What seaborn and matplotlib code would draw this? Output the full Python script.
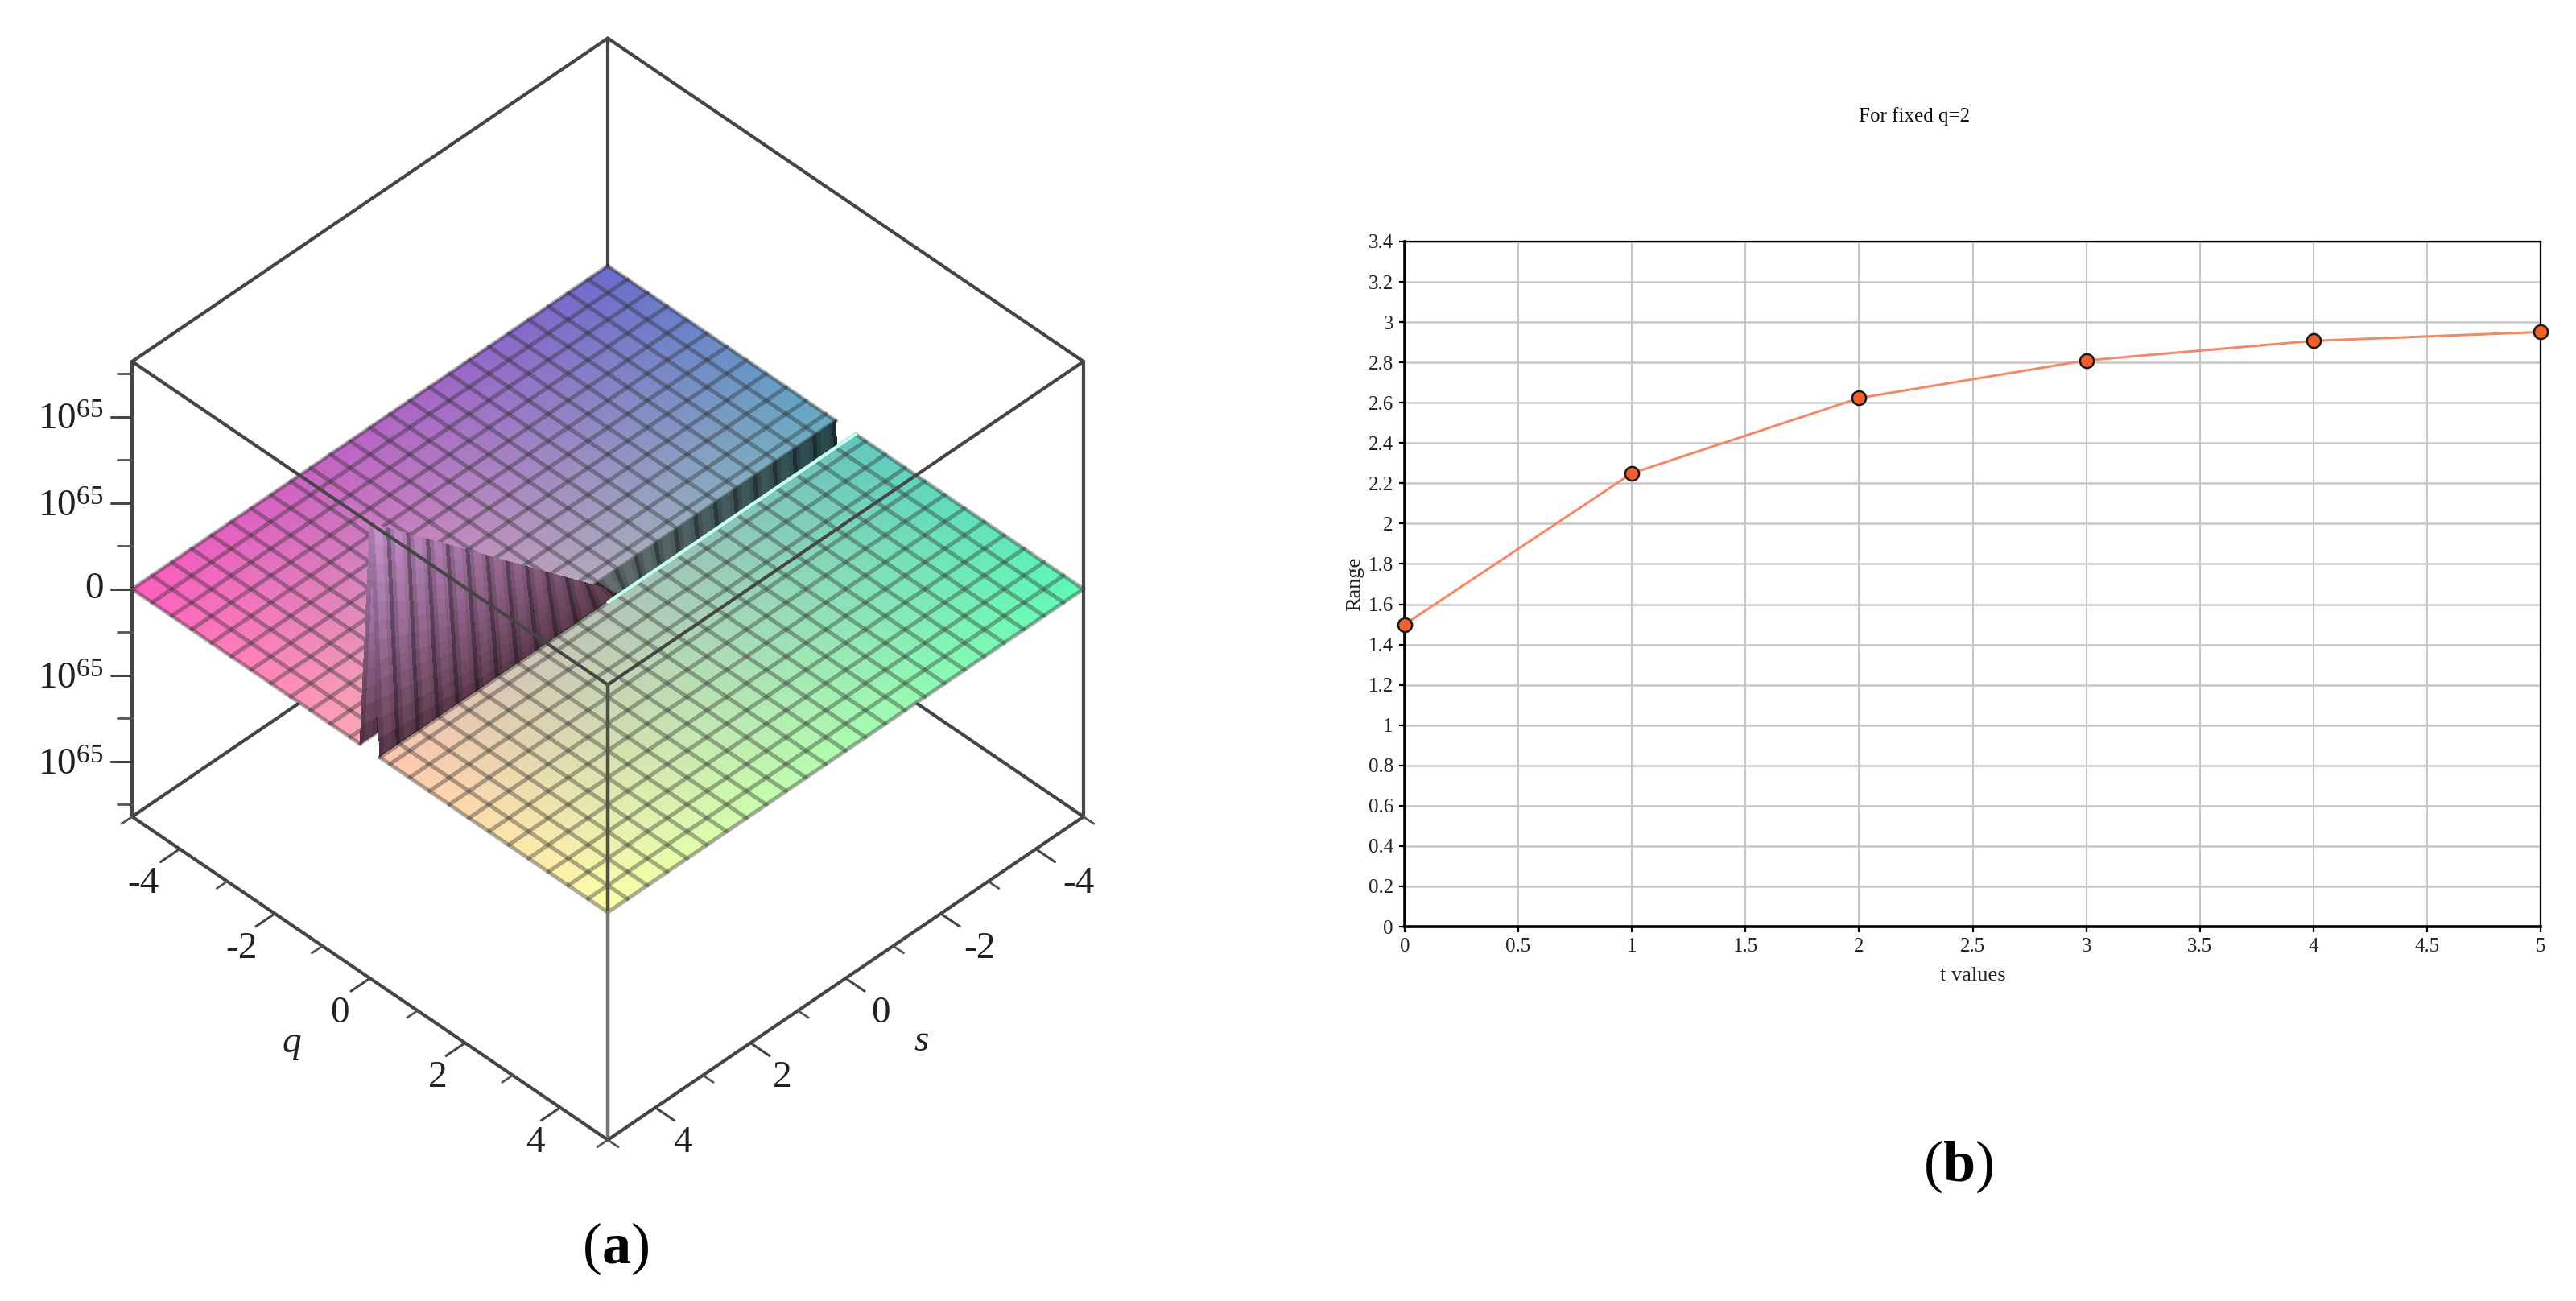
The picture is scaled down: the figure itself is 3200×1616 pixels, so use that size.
import numpy as np
import matplotlib
matplotlib.use("Agg")
import matplotlib.pyplot as plt
from matplotlib.colors import to_rgb
from mpl_toolkits.mplot3d import proj3d
import seaborn as sns

# panel (b)
t_values = [0, 1, 2, 3, 4, 5]
range_values = [1.5, 2.25, 2.623, 2.81, 2.907, 2.951]
x_ticks = [0, 0.5, 1, 1.5, 2, 2.5, 3, 3.5, 4, 4.5, 5]
x_labels = ["0", "0.5", "1", "1.5", "2", "2.5", "3", "3.5", "4", "4.5", "5"]
y_ticks = [0, 0.2, 0.4, 0.6, 0.8, 1, 1.2, 1.4, 1.6, 1.8, 2, 2.2, 2.4, 2.6, 2.8, 3, 3.2, 3.4]
y_labels = ["0", "0.2", "0.4", "0.6", "0.8", "1", "1.2", "1.4", "1.6", "1.8", "2", "2.2", "2.4", "2.6", "2.8", "3", "3.2", "3.4"]

# panel (a), z in units of 10^65
ZMAX = 2.64
s_grid = [-5.0, -4.583, -4.167, -3.75, -3.333, -2.917, -2.5, -2.083, -1.667, -1.25, -0.833, -0.417,
          0.0, 0.417, 0.833, 1.25, 1.667, 2.083, 2.5, 2.917, 3.333, 3.75, 4.167, 4.583, 5.0]
q_lines_back = [-5.0, -4.583, -4.167, -3.75, -3.333, -2.917, -2.5, -2.083, -1.667, -1.25, -0.833, -0.417, -0.208]
q_lines_front = [0.208, 0.417, 0.833, 1.25, 1.667, 2.083, 2.5, 2.917, 3.333, 3.75, 4.167, 4.583, 5.0]
ridge_z = [-2.64, -2.42, -2.2, -1.98, -1.76, -1.54, -1.32, -1.1, -0.88, -0.66, -0.44, -0.22,
           0.0, 0.22, 0.44, 0.66, 0.88, 1.1, 1.32, 1.54, 1.76, 1.98, 2.2, 2.42, 2.64]
z_major = [-2, -1, 0, 1, 2]
z_minor = [-2.5, -1.5, -0.5, 0.5, 1.5, 2.5]
z_labels = ["10$^{65}$", "10$^{65}$", "0", "10$^{65}$", "10$^{65}$"]
axis_major = [-4, -2, 0, 2, 4]
axis_minor = [-5, -3, -1, 1, 3, 5]
axis_labels = ["-4", "-2", "0", "2", "4"]

corner_back = to_rgb("#5f5fc8")
corner_left = to_rgb("#ff50b8")
corner_right = to_rgb("#50f8b0")
corner_front = to_rgb("#ffffa0")

sns.set_theme(style="white")
plt.rcParams["font.family"] = ["Liberation Serif", "DejaVu Serif"]
plt.rcParams["mathtext.fontset"] = "custom"
plt.rcParams["mathtext.rm"] = "Liberation Serif"
plt.rcParams["mathtext.bf"] = "Liberation Serif:bold"
plt.rcParams["mathtext.default"] = "regular"

W, H = 3200, 1616
fig = plt.figure(figsize=(16, 8.08), dpi=200, facecolor="white")

# ---- left: 3d surface
side = 1369.6
ax3 = fig.add_axes([51.7 / W, 181 / H, side / W, side / H], projection="3d",
                   proj_type="ortho", computed_zorder=False)
ax3.set_box_aspect((409.4, 409.4, 377.5))
ax3.view_init(elev=42.8, azim=45)
ax3.set_xlim(-5, 5, view_margin=0)
ax3.set_ylim(-5, 5, view_margin=0)
ax3.set_zlim(-ZMAX, ZMAX, view_margin=0)
ax3.set_xticks([])
ax3.set_yticks([])
ax3.set_zticks([])
ax3.set_axis_off()
ax3.patch.set_alpha(0)


def box_line(p0, p1, z, color="#454545", lw=1.5):
    ax3.plot([p0[0], p1[0]], [p0[1], p1[1]], [p0[2], p1[2]], color=color, lw=lw, zorder=z,
             solid_capstyle="round", clip_on=False)


def label3d(x, y, z, text, **kw):
    # project once so the label is an ordinary 2d text
    px, py, _ = proj3d.proj_transform(x, y, z, ax3.get_proj())
    ax3.text2D(px, py, text, transform=ax3.transData, fontsize=17, color="#222222", zorder=9, **kw)


def sheet_colors(S, U):
    u = U[..., None]
    v = ((S + 5) / 10)[..., None]
    back, left = np.array(corner_back), np.array(corner_left)
    right, front = np.array(corner_right), np.array(corner_front)
    cols = (1 - u) * (1 - v) * back + (1 - u) * v * left + u * (1 - v) * right + u * v * front
    return cols * 0.92 + 0.08


def draw_sheet(q_lines, u_range, z):
    # fine mesh only for the colour gradient, the sheet itself is flat
    ss = np.linspace(-5, 5, 121)
    qq = np.linspace(q_lines[0], q_lines[-1], 61)
    S, Q = np.meshgrid(ss, qq)
    U = u_range[0] + (u_range[1] - u_range[0]) * (Q - q_lines[0]) / (q_lines[-1] - q_lines[0])
    ax3.plot_surface(S, Q, np.zeros_like(S), facecolors=sheet_colors(S, U), rstride=1, cstride=1,
                     shade=False, linewidth=0, antialiased=False, zorder=z)
    for q in q_lines:
        ax3.plot([-5, 5], [q, q], [0, 0], color="#2b2b2b", alpha=0.38, lw=1.8, zorder=z + 0.1)
    for s in s_grid:
        ax3.plot([s, s], [q_lines[0], q_lines[-1]], [0, 0], color="#2b2b2b", alpha=0.38, lw=1.8, zorder=z + 0.1)


def draw_wall(q_edge, z):
    stripe = [0.62, 0.92, 1.0, 1.0, 0.85]
    ss = np.linspace(-5, 5, 24 * 5 + 1)
    ridge = np.interp(ss, s_grid, ridge_z)
    frac = np.linspace(0, 1, 13)
    S, F = np.meshgrid(ss, frac)
    Q = q_edge * (1 - F)
    Z = ridge[None, :] * F
    hi, lo = np.array(to_rgb("#cf98d8")), np.array(to_rgb("#5d3a4c"))
    teal, grey = np.array(to_rgb("#28494e")), np.array(to_rgb("#66706f"))
    tz = np.clip(Z / ZMAX, 0, 1)[..., None]
    ts = np.clip(-S / 5, 0, 1)[..., None]
    cols = np.where(S[..., None] >= 0, lo + (hi - lo) * tz ** 0.8, grey + (teal - grey) * ts)
    shade = np.array([stripe[i % 5] for i in range(len(ss))])[None, :, None]
    cols = np.clip(cols * shade, 0, 1)
    ax3.plot_surface(S, Q, Z, facecolors=cols, rstride=1, cstride=1, shade=False,
                     linewidth=0, antialiased=False, zorder=z)


c = ZMAX
# hidden back edges first
box_line((-5, -5, c), (-5, -5, 0), 1)
box_line((5, -5, -c), (-5, -5, -c), 1)
box_line((-5, 5, -c), (-5, -5, -c), 1)
box_line((5, -5, c), (-5, -5, c), 1)
box_line((-5, 5, c), (-5, -5, c), 1)
box_line((5, -5, c), (5, -5, -c), 1)
box_line((-5, 5, c), (-5, 5, -c), 1)

draw_sheet(q_lines_back, (0.0, 0.46), 2)
draw_wall(q_lines_back[-1], 3)
draw_wall(q_lines_front[0], 4)
draw_sheet(q_lines_front, (0.64, 1.0), 5)
ax3.plot([-5, 0.2], [q_lines_front[0]] * 2, [0, 0], color="#c4fff2", lw=1.6, zorder=5.5)

# front box edges over the surface
box_line((5, -5, c), (5, 5, c), 7)
box_line((-5, 5, c), (5, 5, c), 7)
box_line((5, 5, c), (5, 5, 0), 7, color="#4f5245", lw=1.6)
box_line((5, 5, 0), (5, 5, -c), 7, color="#777777", lw=1.6)
box_line((5, -5, -c), (5, 5, -c), 7)
box_line((-5, 5, -c), (5, 5, -c), 7)

# z axis on the left vertical edge
for val, lab in zip(z_major, z_labels):
    ax3.plot([5, 5.225], [-5, -5.225], [val, val], color="#454545", lw=1.1, zorder=8, clip_on=False)
    dz = -0.05 if val != 0 else 0
    label3d(5.3, -5.3, val + dz, lab, ha="right", va="center")
for val in z_minor:
    ax3.plot([5, 5.15], [-5, -5.15], [val, val], color="#555555", lw=1.0, zorder=8, clip_on=False)

# q and s axes on the bottom edges
for val, lab in zip(axis_major, axis_labels):
    ax3.plot([5, 5.4], [val, val], [-c, -c], color="#454545", lw=1.1, zorder=8, clip_on=False)
    ax3.plot([val, val], [5, 5.4], [-c, -c], color="#454545", lw=1.1, zorder=8, clip_on=False)
    dq = val * 0.03 + 0.26
    ds = val * 0.04 + 0.16
    label3d(5.9, val + dq, -c - 0.07 + dq * 0.374, lab, ha="center", va="center")
    label3d(val + ds, 5.9, -c - 0.07 + ds * 0.374, lab, ha="center", va="center")
for val in axis_minor:
    ax3.plot([5, 5.22], [val, val], [-c, -c], color="#555555", lw=1.0, zorder=8, clip_on=False)
    ax3.plot([val, val], [5, 5.22], [-c, -c], color="#555555", lw=1.0, zorder=8, clip_on=False)
label3d(6.65, 0, -c - 0.13, "q", style="italic", ha="center", va="center")
label3d(0, 6.6, -c - 0.13, "s", style="italic", ha="center", va="center")

# ---- right: line chart
ax = fig.add_axes([1745 / W, 1 - 1151 / H, (3156 - 1745) / W, (1151 - 300) / H])
sns.lineplot(x=t_values, y=range_values, ax=ax, color="#f08a68", lw=1.1, marker="o", markersize=6.2,
             markerfacecolor="#f0602c", markeredgecolor="#1a1a1a", markeredgewidth=0.9, clip_on=False,
             zorder=5, errorbar=None)
ax.set_xlim(0, 5)
ax.set_ylim(0, 3.4)
ax.set_xticks(x_ticks, x_labels)
ax.set_yticks(y_ticks, y_labels)
ax.grid(True, axis="x", color="#c6c6c6", lw=0.7)
ax.grid(True, axis="y", color="#c6c6c6", lw=0.9)
ax.set_axisbelow(True)
ax.tick_params(axis="both", bottom=True, left=True, length=2.6, width=0.8, color="black", labelsize=9,
               labelcolor="#222222", pad=2.5)
for name, lw in zip(["left", "bottom", "top", "right"], [1.3, 1.3, 0.8, 0.8]):
    ax.spines[name].set_visible(True)
    ax.spines[name].set_color("black")
    ax.spines[name].set_linewidth(lw)
ax.set_xlabel("t values", fontsize=9.5, color="#222222", labelpad=5)
ax.set_ylabel("Range", fontsize=9.5, color="#222222", labelpad=2)

fig.text(2378 / W, 1 - 145 / H, "For fixed q=2", ha="center", va="center", fontsize=9, color="#111111")
fig.text(765 / W, 1 - 1551 / H, r"($\mathbf{a}$)", ha="center", va="center", fontsize=26, color="black")
fig.text(2433 / W, 1 - 1449 / H, r"($\mathbf{b}$)", ha="center", va="center", fontsize=26, color="black")

fig.savefig("out.png", dpi=200, facecolor="white")
